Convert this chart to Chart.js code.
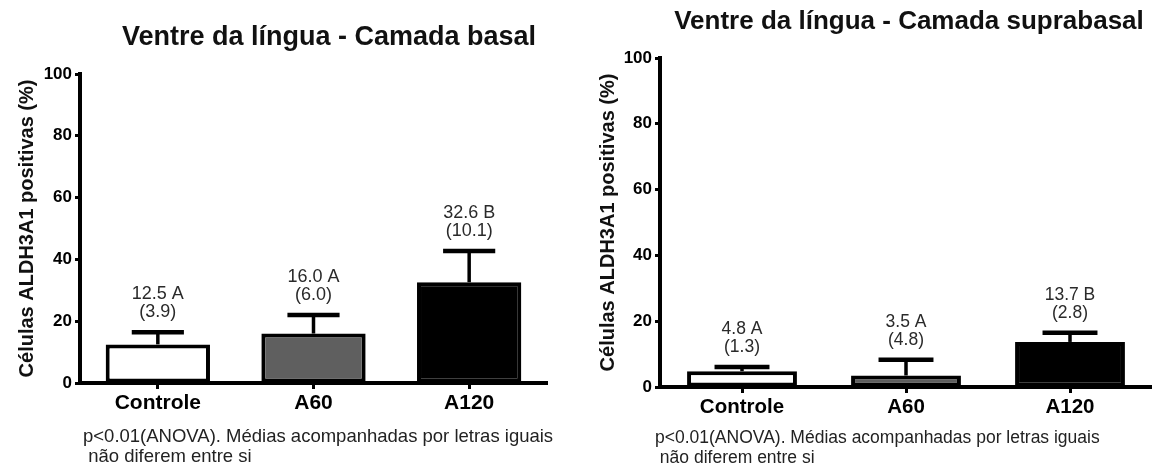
<!DOCTYPE html>
<html>
<head>
<meta charset="utf-8">
<script src="https://cdn.jsdelivr.net/npm/chart.js@4.4.1/dist/chart.umd.min.js"></script>
<style>
  html, body { margin: 0; padding: 0; background: #ffffff; }
  body { width: 1152px; height: 473px; position: relative; overflow: hidden; }
  .panel { position: absolute; top: 0; width: 576px; height: 473px; }
  #p1 { left: 0; }
  #p2 { left: 576px; }
</style>
</head>
<body>
<div class="panel" id="p1"><canvas id="c1" width="576" height="473"></canvas></div>
<div class="panel" id="p2"><canvas id="c2" width="576" height="473"></canvas></div>
<script>
// ---- data ----
const categories = ['Controle', 'A60', 'A120'];
const basalMeans = [12.5, 16.0, 32.6];
const basalSD = [3.9, 6.0, 10.1];
const basalLetters = ['A', 'A', 'B'];
const supraMeans = [4.8, 3.5, 13.7];
const supraSD = [1.3, 4.8, 2.8];
const supraLetters = ['A', 'A', 'B'];
const yTickValues = [0, 20, 40, 60, 80, 100];
const barColors = ['#ffffff', '#5f5f5f', '#000000'];
const yAxisTitle = 'Células ALDH3A1 positivas (%)';
const titleBasal = 'Ventre da língua - Camada basal';
const titleSupra = 'Ventre da língua - Camada suprabasal';
const footLines = ['p<0.01(ANOVA). Médias acompanhadas por letras iguais', ' não diferem entre si'];

const FONT = '"Liberation Sans", Arial, Helvetica, sans-serif';

const errorBarPlugin = {
  id: 'errAnno',
  afterDatasetsDraw(chart, args, opts) {
    const ctx = chart.ctx;
    const meta = chart.getDatasetMeta(0);
    const ys = chart.scales.y;
    ctx.save();
    opts.means.forEach((m, i) => {
      const bar = meta.data[i];
      const x = bar.x;
      const w = bar.width;
      const yBase = ys.getPixelForValue(m);
      const yTop = ys.getPixelForValue(m + opts.sds[i]);
      ctx.strokeStyle = '#000';
      ctx.lineCap = 'butt';
      ctx.lineWidth = 3.5;
      ctx.beginPath();
      ctx.moveTo(x, yBase);
      ctx.lineTo(x, yTop);
      ctx.stroke();
      ctx.lineWidth = 4.5;
      ctx.beginPath();
      ctx.moveTo(x - w / 4, yTop);
      ctx.lineTo(x + w / 4, yTop);
      ctx.stroke();
      ctx.fillStyle = '#2a2a2a';
      ctx.font = opts.annoSize + 'px ' + FONT;
      ctx.textAlign = 'center';
      ctx.textBaseline = 'middle';
      ctx.fillText(m.toFixed(1) + ' ' + opts.letters[i], x, yTop - 38);
      ctx.fillText('(' + opts.sds[i].toFixed(1) + ')', x, yTop - 20);
    });
    ctx.restore();
  },
  afterDraw(chart, args, opts) {
    const ctx = chart.ctx;
    ctx.save();
    ctx.fillStyle = '#111';
    ctx.textBaseline = 'middle';
    ctx.textAlign = 'center';
    ctx.font = 'bold ' + opts.titleSize + 'px ' + FONT;
    ctx.fillText(opts.title, opts.titleX, opts.titleY);
    ctx.textAlign = 'left';
    ctx.fillStyle = '#222';
    ctx.font = opts.footSize + 'px ' + FONT;
    footLines.forEach((t, k) => {
      ctx.fillText(t, opts.footX, opts.footY + k * 20);
    });
    ctx.restore();
  }
};

function makeChart(id, means, sds, letters, cfg) {
  return new Chart(document.getElementById(id), {
    type: 'bar',
    data: {
      labels: categories,
      datasets: [{
        data: means,
        backgroundColor: barColors,
        borderColor: '#000',
        borderWidth: 4,
        borderSkipped: false,
        barPercentage: 0.67,
        categoryPercentage: 1.0
      }]
    },
    plugins: [errorBarPlugin],
    options: {
      responsive: false,
      animation: false,
      devicePixelRatio: 1,
      layout: { padding: { top: cfg.top, right: cfg.right, left: 0, bottom: 0 } },
      plugins: {
        legend: { display: false },
        tooltip: { enabled: false },
        title: { display: false },
        errAnno: {
          means: means, sds: sds, letters: letters,
          annoSize: cfg.annoSize,
          title: cfg.title, titleSize: cfg.titleSize, titleX: cfg.titleX, titleY: cfg.titleY,
          footSize: cfg.footSize, footX: cfg.footX, footY: cfg.footY
        }
      },
      scales: {
        x: {
          offset: true,
          grid: {
            offset: false,
            display: true,
            drawOnChartArea: false,
            drawTicks: true,
            tickLength: 6,
            tickWidth: 3,
            tickColor: '#000'
          },
          border: { display: true, color: '#000', width: 4 },
          ticks: {
            color: '#000',
            padding: 2,
            font: { family: FONT, size: cfg.catSize, weight: 'bold' }
          },
          afterFit(scale) { scale.height = cfg.xHeight; }
        },
        y: {
          min: 0,
          max: 100,
          afterBuildTicks(scale) { scale.ticks = yTickValues.map(v => ({ value: v })); },
          grid: {
            display: true,
            drawOnChartArea: false,
            drawTicks: true,
            tickLength: 5,
            tickWidth: 3,
            tickColor: '#000'
          },
          border: { display: true, color: '#000', width: 4 },
          ticks: {
            color: '#000',
            padding: 3,
            font: { family: FONT, size: 17, weight: 'bold' }
          },
          title: {
            display: true,
            text: yAxisTitle,
            color: '#111',
            padding: { top: cfg.ytPad, bottom: 0 },
            font: { family: FONT, size: 20, weight: 'bold' }
          },
          afterFit(scale) { scale.width = cfg.yWidth; }
        }
      }
    }
  });
}

makeChart('c1', basalMeans, basalSD, basalLetters, {
  top: 74, right: 29, xHeight: 90, yWidth: 80, ytPad: 15,
  annoSize: 18, catSize: 21,
  title: titleBasal, titleSize: 27, titleX: 329, titleY: 38,
  footSize: 18.5, footX: 83, footY: 437
});

makeChart('c2', supraMeans, supraSD, supraLetters, {
  top: 58, right: 0, xHeight: 86, yWidth: 84, ytPad: 20,
  annoSize: 17.5, catSize: 20.5,
  title: titleSupra, titleSize: 26, titleX: 909 - 576, titleY: 22,
  footSize: 17.5, footX: 655 - 576, footY: 438
});
</script>
</body>
</html>
